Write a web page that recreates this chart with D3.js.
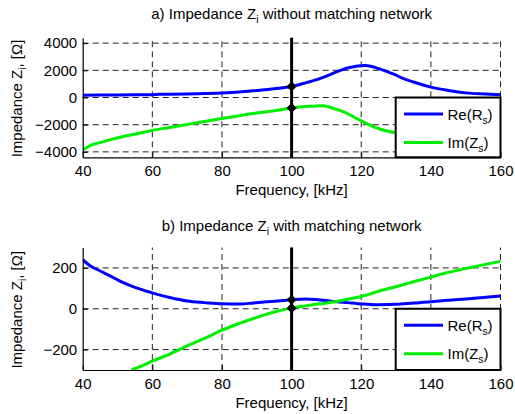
<!DOCTYPE html>
<html><head><meta charset="utf-8">
<script src="https://cdn.jsdelivr.net/npm/d3@7"></script>
<style>
body{margin:0;background:#fff;}
text{font-family:"Liberation Sans",Arial,sans-serif;fill:#000;}
</style></head><body>
<svg id="c" width="515" height="414"></svg>
<script>
// ---- data ----
const xTicks = [40, 60, 80, 100, 120, 140, 160];
const yTicksA = [-4000, -2000, 0, 2000, 4000];
const yTicksB = [-200, 0, 200];
const markerFreq = 100;

const freqReA = [40,45,50,55,60,62,65,70,75,80,85,90,95,100,104,107,110,114,117,119,121,123,125,128,130,132,135,137.5,140,145,150,154,157,160];
const reA     = [170,180,190,195,205,240,245,260,290,330,400,520,650,810,1080,1300,1580,2000,2220,2320,2350,2280,2120,1850,1650,1400,1140,940,765,520,340,270,240,200];

const freqImA = [40,43,46,48,52,56,60,65,70,75,80,85,90,95,100,103,106,109,111,113,115,118,121,124,127,130,135,140,145,150,155,160];
const imA     = [-3850,-3450,-3250,-3100,-2850,-2650,-2420,-2200,-1980,-1760,-1540,-1340,-1140,-980,-770,-680,-640,-600,-720,-880,-1050,-1450,-1850,-2200,-2450,-2600,-2700,-2650,-2500,-2350,-2150,-2000];

const freqReB = [40,42,45,48,51,55,60,65,70,75,80,85,89,92,96,100,104,107,110,113,116,119,122,125,130,135,140,145,150,155,160];
const reB     = [240,212,185,160,133,105,78,55,38,30,24,23,28,33,38,44,48,45,40,34,30,25,22,20,22,28,34,42,48,55,62];

const freqImB = [54,57,60,65,70,75,80,85,90,95,100,104,108,112,115,118,121,125,131,135,140,145,150,155,160];
const imB     = [-300,-280,-257,-222,-182,-145,-105,-72,-42,-16,3,14,24,33,43,53,65,86,113,132,155,178,197,215,232];

const titleA = ["a) Impedance Z", "i", " without matching network"];
const titleB = ["b) Impedance Z", "i", " with matching network"];
const yLabel = ["Impedance Z", "i", ", [\u03A9]"];
const xLabel = "Frequency, [kHz]";
const legendLabels = [["Re(R", "s", ")"], ["Im(Z", "s", ")"]];
const colors = ["#0000ff", "#00ee00"];

// ---- drawing ----
const svg = d3.select("#c");
const x = d3.scaleLinear().domain([40,160]).range([82.7,500.5]);

function richText(g, parts, fs) {
  g.append("tspan").text(parts[0]);
  g.append("tspan").attr("font-size", fs*0.68).attr("dy", 4).text(parts[1]);
  g.append("tspan").attr("dy", -4).text(parts[2]);
}

function panel(cfg) {
  const y = d3.scaleLinear().domain(cfg.yDomain).range(cfg.yRange);
  const g = svg.append("g");
  const [y0, y1] = cfg.yRange;
  const x0 = x.range()[0], x1 = x.range()[1];
  const clipId = "clip" + cfg.id;
  svg.append("clipPath").attr("id", clipId).append("rect")
    .attr("x", x0).attr("y", y1).attr("width", x1 - x0).attr("height", y0 - y1);

  // grid
  g.append("g").selectAll("line").data(cfg.yTicks).join("line")
    .attr("x1", x0).attr("x2", x1).attr("y1", d => y(d)).attr("y2", d => y(d))
    .attr("stroke", "#222").attr("stroke-width", 1).attr("stroke-dasharray", "6,4");
  g.append("g").selectAll("line").data(xTicks.filter(d => d > 40)).join("line")
    .attr("x1", d => x(d)).attr("x2", d => x(d)).attr("y1", y0).attr("y2", y1)
    .attr("stroke", "#222").attr("stroke-width", 1).attr("stroke-dasharray", "6,4");

  // curves
  const line = d3.line().x(d => x(d[0])).y(d => y(d[1])).curve(d3.curveMonotoneX);
  const cg = g.append("g").attr("clip-path", `url(#${clipId})`);
  cg.append("path").datum(cfg.fr.map((f, i) => [f, cfg.re[i]]))
    .attr("d", line).attr("fill", "none").attr("stroke", colors[0]).attr("stroke-width", 3);
  cg.append("path").datum(cfg.fi.map((f, i) => [f, cfg.im[i]]))
    .attr("d", line).attr("fill", "none").attr("stroke", colors[1]).attr("stroke-width", 3);

  // vertical marker line
  g.append("line").attr("x1", x(markerFreq)).attr("x2", x(markerFreq))
    .attr("y1", y0).attr("y2", y1).attr("stroke", "#000").attr("stroke-width", 3);
  const mVals = [cfg.re[cfg.fr.indexOf(markerFreq)], cfg.im[cfg.fi.indexOf(markerFreq)]];
  g.append("g").selectAll("path").data(mVals).join("path")
    .attr("d", d3.symbol(d3.symbolSquare, 52)())
    .attr("transform", d => `translate(${x(markerFreq)},${y(d)}) rotate(45)`)
    .attr("fill", "#000");

  // axes
  const ax = g.append("g").attr("transform", `translate(0,${y0})`)
    .call(d3.axisBottom(x).tickValues(xTicks).tickSizeInner(-5).tickSizeOuter(0).tickPadding(8).tickFormat(d3.format("d")));
  const ay = g.append("g").attr("transform", `translate(${x0},0)`)
    .call(d3.axisLeft(y).tickValues(cfg.yTicks).tickSizeInner(-5).tickSizeOuter(0).tickPadding(5.5).tickFormat(d3.format("d")));
  [ax, ay].forEach(a => {
    a.selectAll("text").attr("font-size", 15).attr("font-family", '"Liberation Sans",Arial,sans-serif').attr("fill", "#000");
    a.select(".domain").attr("stroke", "#000").attr("stroke-width", 1.2);
    a.selectAll(".tick line").attr("stroke", "#000");
  });
  ax.selectAll("text").attr("dy", "0.71em");

  // title
  const t = g.append("text").attr("x", (x0 + x1) / 2).attr("y", cfg.titleY)
    .attr("text-anchor", "middle").attr("font-size", 15);
  richText(t, cfg.title, 15);
  // x label
  g.append("text").attr("x", (x0 + x1) / 2).attr("y", y0 + 37.8)
    .attr("text-anchor", "middle").attr("font-size", 15).text(xLabel);
  // y label
  const yl = g.append("text").attr("transform", `translate(22,${(y0 + y1) / 2 + 1}) rotate(-90)`)
    .attr("text-anchor", "middle").attr("font-size", 15);
  richText(yl, yLabel, 15);

  // legend
  const lx0 = 395.7, lyTop = y(0), lw = x1 - lx0, lh = y0 - lyTop;
  const lg = g.append("g");
  lg.append("rect").attr("x", lx0).attr("y", lyTop).attr("width", lw).attr("height", lh)
    .attr("fill", "#fff").attr("stroke", "#000").attr("stroke-width", 2);
  legendLabels.forEach((lab, i) => {
    const ly = lyTop + 16.5 + i * 28.4;
    lg.append("line").attr("x1", 404).attr("x2", 443).attr("y1", ly).attr("y2", ly)
      .attr("stroke", colors[i]).attr("stroke-width", 3);
    const tt = lg.append("text").attr("x", 447.5).attr("y", ly + 5.5).attr("font-size", 15);
    richText(tt, lab, 15);
  });
}

panel({id: "a", yDomain: [-4400, 4400], yRange: [157.3, 37.7], yTicks: yTicksA,
  fr: freqReA, re: reA, fi: freqImA, im: imA, title: titleA, titleY: 19.3});
panel({id: "b", yDomain: [-300, 300], yRange: [370, 247.5], yTicks: yTicksB,
  fr: freqReB, re: reB, fi: freqImB, im: imB, title: titleB, titleY: 231});
</script>
</body></html>
